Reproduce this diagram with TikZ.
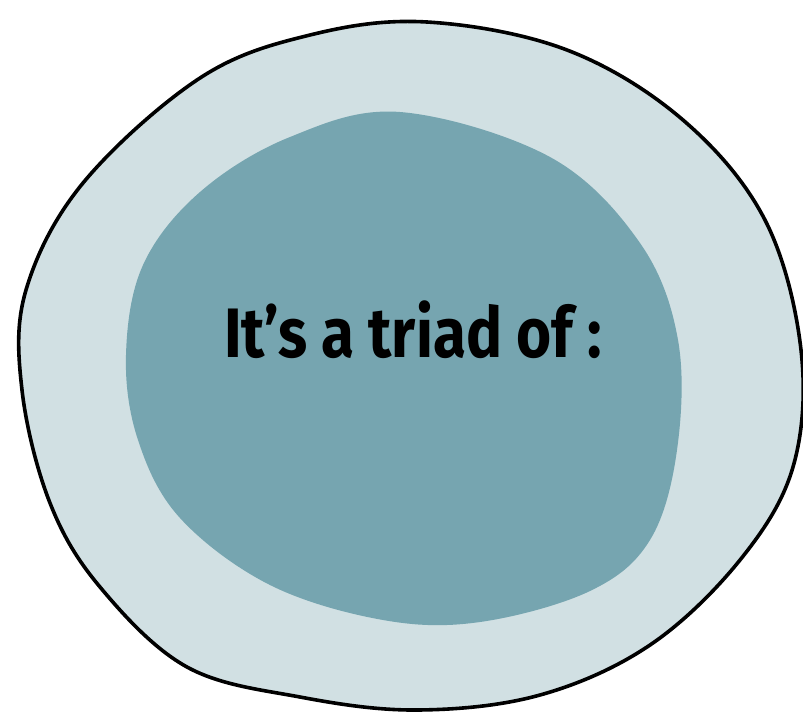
\documentclass[tikz,border=0pt]{standalone}
\usepackage{fontspec}
\usepackage{xcolor}
\usepackage{tikz}
\usetikzlibrary{positioning}
\newfontfamily\triadfont[FakeStretch=0.86]{Fira Sans}
\definecolor{trouter}{HTML}{D1E0E3}
\definecolor{trinner}{HTML}{76A5B0}
\tikzset{
  outerblob/.style={draw=black,line width=1.8pt,fill=trouter},
  innerblob/.style={fill=trinner},
  title/.style={font=\triadfont\bfseries\fontsize{35}{40}\selectfont,text=black,inner sep=0pt}
}
\begin{document}
\begin{tikzpicture}[x=0.5pt,y=-0.5pt]
    \useasboundingbox (0,0) rectangle (803,713);
    % outer ring
    \draw[outerblob] plot[smooth cycle,tension=0.6] coordinates {
      (427,22) (567,50) (683,120) (765,220) (801,350) (793,467) (740,560)
      (650,645) (540,695) (417,710) (300,697) (187,667) (100,587) (50,503)
      (22,390) (26,290) (83,183) (200,78) (310,35)};
    % inner blob
    \fill[innerblob] plot[smooth cycle,tension=0.6] coordinates {
      (400,112) (550,157) (640,243) (678,340) (677,450) (650,540) (590,591)
      (480,622) (383,620) (270,585) (180,518) (138,440) (126,355) (143,265)
      (200,192) (290,137)};
    \node[title] (triad) at (413,330) {It’s a triad of :};
  \end{tikzpicture}
\end{document}
